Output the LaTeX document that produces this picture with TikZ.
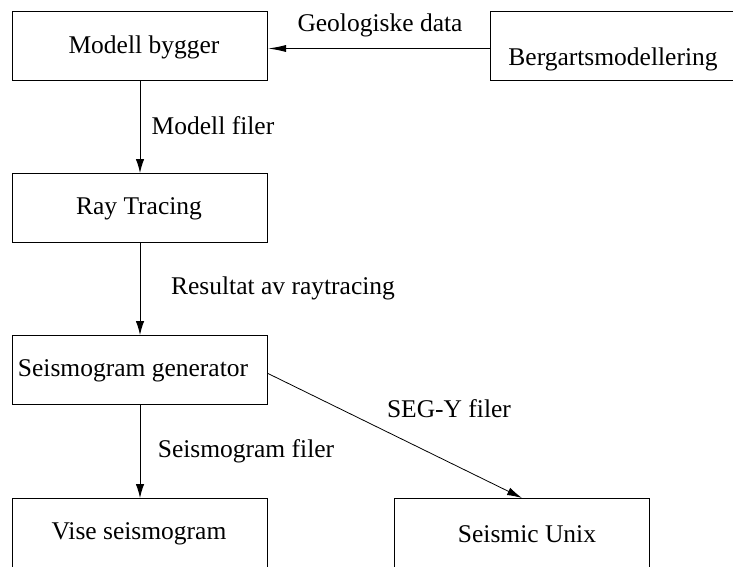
\documentclass[tikz,border=0pt]{standalone}
\usepackage{fontspec}
\setmainfont{Liberation Serif}
\usetikzlibrary{arrows.meta}
\begin{document}
\begin{tikzpicture}[x=1pt,y=-1pt,
  every node/.style={font=\fontsize{25.5}{28}\selectfont, inner sep=0pt},
  box/.style={draw, line width=1, minimum width=255, minimum height=69, anchor=north west},
  tallbox/.style={box, minimum height=90},
  flow/.style={draw, line width=1, -{Latex[length=14,width=8.5]}}]
\useasboundingbox (0,0) rectangle (733,567);
\begin{scope}
\clip (0,0) rectangle (733,567);
% process boxes
\node[box] (mb) at (12,11) {};
\node[box] (bm) at (490,11) {};
\node[box] (rt) at (12,173) {};
\node[box] (sg) at (12,335) {};
\node[tallbox] (vs) at (12,498) {};
\node[tallbox] (su) at (394,498) {};
% box captions
\node (mbt) at (144,47) {Modell bygger};
\node (bmt) at (613,59) {Bergartsmodellering};
\node (rtt) at (139,209) {Ray Tracing};
\node (sgt) at (133,371) {Seismogram generator};
\node (vst) at (139,534) {Vise seismogram};
\node (sut) at (527,534) {Seismic Unix};
% data flow
\draw[line width=1, -{Latex[length=18,width=7]}]
  ([yshift=-2.5pt]bm.west) -- ([yshift=-2.5pt]mb.east);
\draw[flow] (mb.south) -- (rt.north);
\draw[flow] (rt.south) -- (sg.north);
\draw[flow] (sg.south) -- (vs.north);
\draw[line width=0.8, -{Latex[length=15,width=8]}]
  ([yshift=-3.5pt]sg.east) -- (su.north);
% flow labels
\node (l1) at (380,25) {Geologiske data};
\node (l2) at (213,126) {Modell filer};
\node (l3) at (283,288) {Resultat av raytracing};
\node (l4) at (246,451) {Seismogram filer};
\node (l5) at (449,409) {SEG-Y filer};
\end{scope}
\end{tikzpicture}
\end{document}
